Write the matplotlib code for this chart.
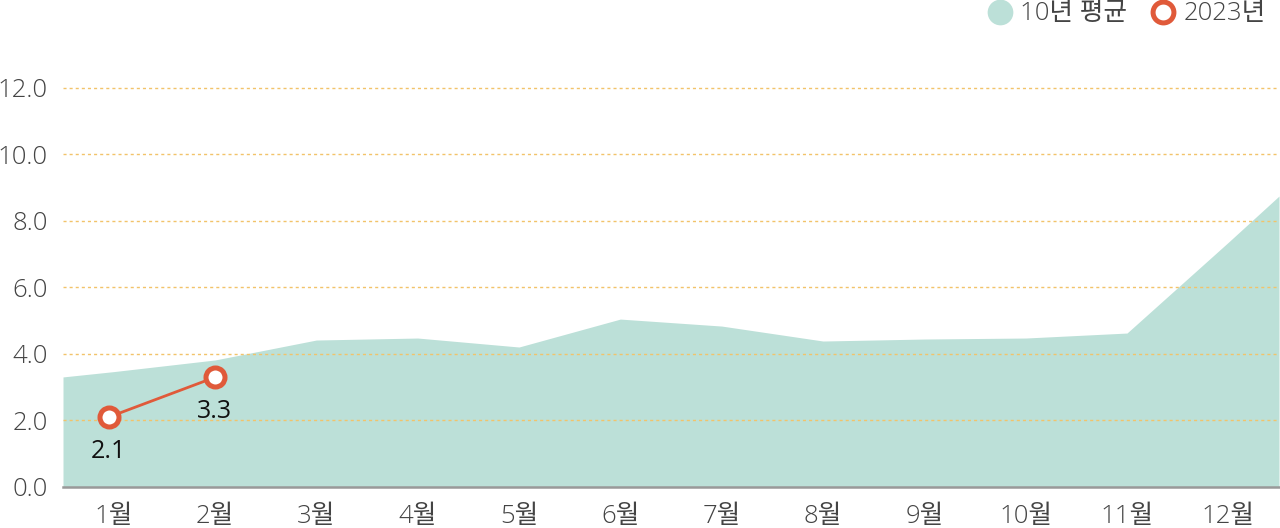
import matplotlib
matplotlib.use("Agg")
import matplotlib.pyplot as plt
from matplotlib.lines import Line2D
import numpy as np

plt.rcParams['font.family'] = ['Open Sans', 'Noto Sans CJK KR', 'DejaVu Sans']

months = ["1월", "2월", "3월", "4월", "5월", "6월", "7월", "8월", "9월", "10월", "11월", "12월"]
avg10 = [3.47, 3.82, 4.42, 4.48, 4.21, 5.05, 4.84, 4.39, 4.45, 4.48, 4.63, 7.36]
avg10_left_edge = 3.31
avg10_right_edge = 8.75
y2023 = [2.1, 3.3]
y2023_labels = ["2.1", "3.3"]
yticks = [0, 2, 4, 6, 8, 10, 12]

AREA = "#bce0d8"
RED = "#e05a3a"
GRID = "#f2c36a"
TXT = "#444444"

fig = plt.figure(figsize=(12.8, 5.28), dpi=100)
ax = fig.add_axes([63/1280, 41/528, (1279-63)/1280, (487-78)/528])

n = len(months)
x = np.arange(n)
ax_x = np.concatenate([[-0.5], x, [n - 0.5]])
ax_y = np.concatenate([[avg10_left_edge], avg10, [avg10_right_edge]])
ax.fill_between(ax_x, 0, ax_y, color=AREA, linewidth=0, zorder=1)

for t in yticks[1:]:
    ax.axhline(t, color=GRID, linewidth=1, linestyle=(0, (2.2, 2.2)), zorder=2)

x23 = x[:len(y2023)] - np.array([0.05, 0.0])
ax.plot(x23, y2023, color=RED, linewidth=2, zorder=4)
ax.plot(x23, y2023, linestyle='none', marker='o', markersize=13.7,
        markerfacecolor='white', markeredgecolor=RED, markeredgewidth=3.6, zorder=5)
for xi, yi, lab in zip(x23, y2023, y2023_labels):
    ax.annotate(lab, (xi, yi), xytext=(0, -15.5), textcoords='offset points',
                ha='center', va='top', fontsize=18, color='#111111', zorder=6)

ax.set_xlim(-0.5, n - 0.5)
ax.set_ylim(0, 12.3)
ax.set_xticks(x)
ax.set_xticklabels(months)
ax.set_yticks(yticks)
ax.set_yticklabels([f"{t:.1f}" for t in yticks])
ax.tick_params(axis='both', length=0, labelsize=18.5, labelcolor=TXT)
ax.tick_params(axis='y', pad=11)
ax.tick_params(axis='x', pad=12)
for lab in ax.get_xticklabels() + ax.get_yticklabels():
    lab.set_fontweight('light')

for s in ['top', 'right', 'left']:
    ax.spines[s].set_visible(False)
ax.spines['bottom'].set_color('#999999')
ax.spines['bottom'].set_linewidth(1.8)
ax.spines['bottom'].set_zorder(3)

handles = [
    Line2D([], [], linestyle='none', marker='o', markersize=18.5,
           markerfacecolor=AREA, markeredgewidth=0),
    Line2D([], [], linestyle='none', marker='o', markersize=15,
           markerfacecolor='white', markeredgecolor=RED, markeredgewidth=3.6),
]
leg = fig.legend(handles, ["10년 평균", "2023년"], loc='center right',
                 bbox_to_anchor=(1266/1280, 1 - 14/528), ncol=2, frameon=False,
                 fontsize=18.5, handlelength=1.0, handletextpad=0.3,
                 columnspacing=0.9, borderpad=0, borderaxespad=0)
for t in leg.get_texts():
    t.set_color(TXT)
    t.set_fontweight('light')

fig.savefig("out.png", dpi=100)
